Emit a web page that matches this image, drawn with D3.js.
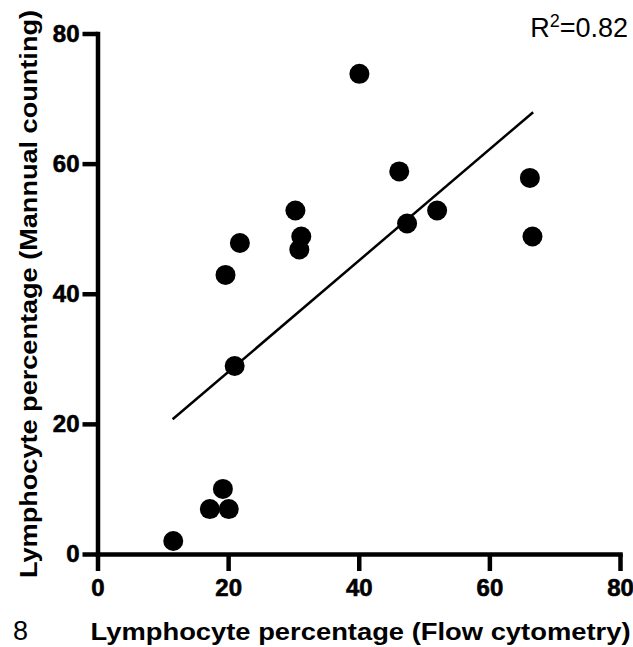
<!doctype html>
<html>
<head>
<script src="https://d3js.org/d3.v7.min.js"></script>
<style>
body { margin: 0; background: #fff; }
text { font-family: "Liberation Sans", Arial, Helvetica, sans-serif; }
</style>
</head>
<body>
<svg width="633" height="647"></svg>
<script>
// data
var flowPct   = [11.6, 17.2, 19.2, 20.1, 19.6, 21.8, 21.0, 30.3, 31.2, 30.9, 40.1, 46.2, 47.4, 52.0, 66.2, 66.6];
var manualPct = [2.0, 6.9, 10.0, 6.9, 42.9, 47.8, 28.9, 52.8, 48.8, 46.8, 73.8, 58.8, 50.8, 52.8, 57.8, 48.8];
var fitX = [11.5, 66.7];
var fitY = [20.7, 67.9];
var ticks = [0, 20, 40, 60, 80];

var svg = d3.select("svg");

var x = d3.scaleLinear().domain([0, 80]).range([97.5, 620]);
var y = d3.scaleLinear().domain([0, 80]).range([554, 33.5]);

// axes
var xAxis = svg.append("g")
    .attr("transform", "translate(0,554)")
    .call(d3.axisBottom(x).tickValues(ticks).tickSize(17).tickPadding(8).tickSizeOuter(0));
var yAxis = svg.append("g")
    .attr("transform", "translate(97.5,0)")
    .call(d3.axisLeft(y).tickValues(ticks).tickSize(15).tickPadding(3).tickSizeOuter(0));

[xAxis, yAxis].forEach(function(a) {
  a.select(".domain").attr("stroke", "#000").attr("stroke-width", 4.5).attr("stroke-linecap", "square");
  a.selectAll(".tick line").attr("stroke", "#000").attr("stroke-width", 4.5);
  a.selectAll(".tick text")
    .attr("fill", "#000")
    .attr("stroke", "#000")
    .attr("stroke-width", 0.6)
    .attr("font-size", 24)
    .style("font-size", "24px")
    .style("font-weight", "bold");
});

// regression line
svg.append("line")
    .attr("x1", x(fitX[0])).attr("y1", y(fitY[0]))
    .attr("x2", x(fitX[1])).attr("y2", y(fitY[1]))
    .attr("stroke", "#000")
    .attr("stroke-width", 2.5);

// points
svg.append("g")
  .selectAll("circle")
  .data(flowPct)
  .enter()
  .append("circle")
    .attr("cx", function(d) { return x(d); })
    .attr("cy", function(d, i) { return y(manualPct[i]); })
    .attr("r", 10)
    .attr("fill", "#000");

// R squared
var r2 = svg.append("text")
    .attr("x", 628)
    .attr("y", 36.5)
    .attr("text-anchor", "end")
    .style("font-size", "27px");
r2.append("tspan").text("R");
r2.append("tspan").attr("dy", -10).style("font-size", "18px").text("2");
r2.append("tspan").attr("dy", 10).text("=0.82");

// axis titles
svg.append("text")
    .attr("x", 90.5)
    .attr("y", 640)
    .attr("textLength", 540)
    .attr("lengthAdjust", "spacingAndGlyphs")
    .style("font-size", "24.5px")
    .style("font-weight", "bold")
    .text("Lymphocyte percentage (Flow cytometry)");

svg.append("text")
    .attr("transform", "translate(37,578)rotate(-90)")
    .attr("textLength", 568)
    .attr("lengthAdjust", "spacingAndGlyphs")
    .style("font-size", "24.5px")
    .style("font-weight", "bold")
    .text("Lymphocyte percentage (Mannual counting)");

// stray panel number at bottom-left
svg.append("text")
    .attr("x", 13)
    .attr("y", 640)
    .style("font-size", "27px")
    .text("8");
</script>
</body>
</html>
